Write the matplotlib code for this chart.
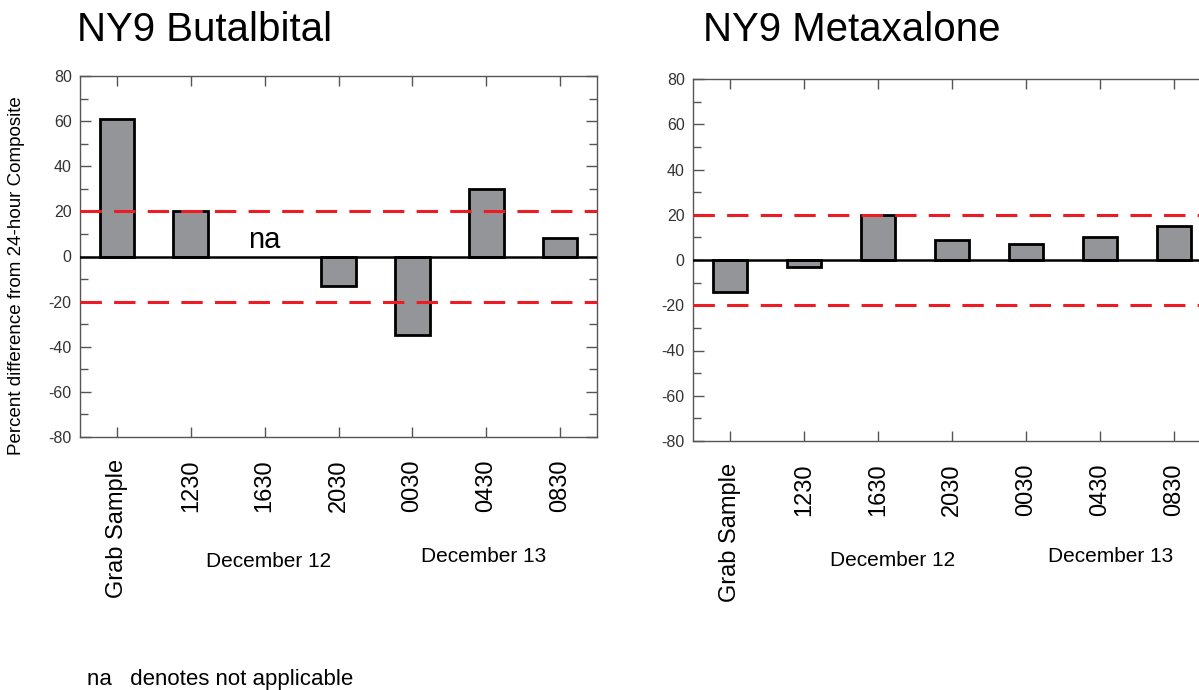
import numpy as np
import matplotlib
matplotlib.use("Agg")
from matplotlib import pyplot as plt
from matplotlib.ticker import MultipleLocator

plt.rcParams['font.family'] = ['Liberation Sans', 'DejaVu Sans']
plt.rcParams['axes.unicode_minus'] = False

# Percent difference of each sample from the 24-hour composite
samples = ["Grab Sample", "1230", "1630", "2030", "0030", "0430", "0830"]
butalbital = [61, 20, np.nan, -13, -35, 30, 8]   # 1630 not applicable
metaxalone = [-14, -3, 20, 9, 7, 10, 15]
limits = [20, -20]
days = ["December 12", "December 13"]


def panel(ax, values, title, day_x, day_y, title_x):
    x = np.arange(len(samples))
    ax.bar(x, values, width=0.47, color='#939598', edgecolor='black',
           linewidth=2, zorder=2)
    for lim in limits:
        ax.axhline(lim, color='#ed1c24', lw=2.2, dashes=(7, 4), zorder=3)
    ax.axhline(0, color='black', lw=1.8, zorder=4)

    ax.set_xlim(-0.5, len(samples) - 0.5)
    ax.set_ylim(-80, 80)
    ax.set_xticks(x)
    ax.set_xticklabels(samples, rotation=90, fontsize=17, va='top')
    ax.yaxis.set_major_locator(MultipleLocator(20))
    ax.yaxis.set_minor_locator(MultipleLocator(10))
    ax.tick_params(axis='x', which='major', direction='in', top=True,
                   length=7, width=1, color='#555555', pad=16)
    ax.tick_params(axis='y', which='both', direction='in', right=True,
                   width=1, color='#555555', labelsize=11.5,
                   labelcolor='#333333', pad=6)
    ax.tick_params(axis='y', which='major', length=8)
    ax.tick_params(axis='y', which='minor', length=6)
    for s in ax.spines.values():
        s.set_color('#555555')
        s.set_linewidth(1)

    for d, dx, dy in zip(days, day_x, day_y):
        ax.text(dx, dy, d, transform=ax.get_xaxis_transform(),
                ha='center', va='center', fontsize=15)

    fig.text(title_x, 1 - 30 / 690, title, fontsize=29, va='center')


fig = plt.figure(figsize=(11.99, 6.90), dpi=100)
ax1 = fig.add_axes([80 / 1199, 1 - 437 / 690, 517 / 1199, 361 / 690])
ax2 = fig.add_axes([693 / 1199, 1 - 441 / 690, 518 / 1199, 362 / 690])

panel(ax1, butalbital, "NY9 Butalbital", [2.05, 4.97], [-0.346, -0.332], 77 / 1199)
panel(ax2, metaxalone, "NY9 Metaxalone", [2.2, 5.15], [-0.331, -0.320], 703 / 1199)

ax1.text(2, 7.5, "na", ha='center', va='center', fontsize=21, zorder=5)

fig.text(17 / 1199, 1 - 276 / 690, "Percent difference from 24-hour Composite",
         rotation=90, ha='center', va='center', fontsize=13.5)
fig.text(87 / 1199, 1 - 679 / 690, "na   denotes not applicable",
         ha='left', va='center', fontsize=16)

fig.savefig("out.png", dpi=100)
